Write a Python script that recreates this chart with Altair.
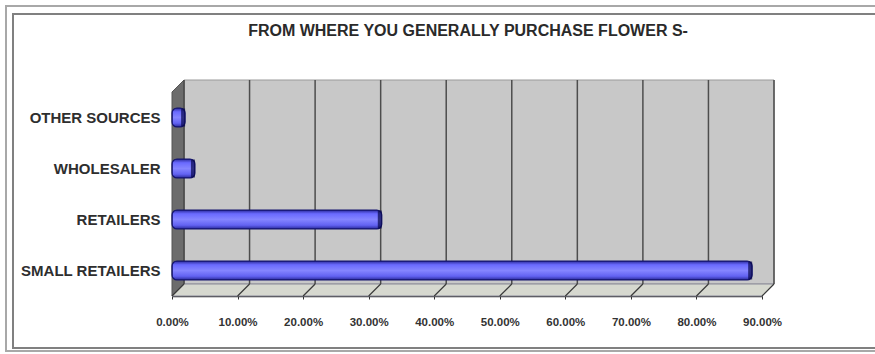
import altair as alt
import pandas as pd

# ---- data ----
categories = ["OTHER SOURCES", "WHOLESALER", "RETAILERS", "SMALL RETAILERS"]
shares = [2.0, 3.5, 32.0, 88.5]          # percent
tick_values = [0, 10, 20, 30, 40, 50, 60, 70, 80, 90]
title_text = "FROM WHERE YOU GENERALLY PURCHASE FLOWER S-"

W, H, D = 590, 204, 12   # plot width, height, 3-D depth (px)
FONT = "Liberation Sans"

bars_df = pd.DataFrame({"source": categories, "share": shares})
ticks_df = pd.DataFrame({"t": tick_values})
one = pd.DataFrame({"k": [0]})

xscale = alt.Scale(domain=[0, 90], nice=False, zero=True)
yscale = alt.Scale(domain=categories, paddingInner=0, paddingOuter=0)

xaxis = alt.Axis(values=tick_values,
                 labelExpr="format(datum.value, '.2f') + '%'",
                 grid=False, tickSize=3, tickColor="#333333",
                 domainColor="#333333", domainWidth=1.5,
                 labelFlush=False, labelOverlap=False,
                 labelPadding=17, labelFont=FONT, labelFontSize=11.5,
                 labelColor="#333333", labelFontWeight="bold", title=None)
yaxis = alt.Axis(domain=False, ticks=False, labelPadding=12,
                 labelFont=FONT, labelFontSize=15, labelFontWeight="bold",
                 labelColor="#2e2e2e", labelLimit=300, title=None)

# outer double frame
frame_outer = alt.Chart(one).mark_rect(filled=False, stroke="#a8a8a8", strokeWidth=2).encode(
    x=alt.value(-166), x2=alt.value(760), y=alt.value(-86), y2=alt.value(259))
frame_inner = alt.Chart(one).mark_rect(filled=False, stroke="#808080", strokeWidth=2).encode(
    x=alt.value(-159), x2=alt.value(760), y=alt.value(-78), y2=alt.value(256))

# back wall
back = alt.Chart(one).mark_rect(color="#c8c8c8", stroke="#9a9a9a", strokeWidth=1).encode(
    x=alt.value(D), x2=alt.value(W + D), y=alt.value(-D), y2=alt.value(H - D))

# side wall (parallelogram)
side_df = pd.DataFrame({"px": [0, D], "a": [0, -D], "b": [H, H - D]})
side = alt.Chart(side_df).mark_area(color="#6c6c6c", stroke="#555555", strokeWidth=1).encode(
    x=alt.X("px:Q", scale=None),
    y=alt.Y("a:Q", scale=None),
    y2="b:Q")

# floor (parallelogram)
floor_df = pd.DataFrame({"px": [0, D, W, W + D], "a": [H, H - D, H - D, H - D], "b": [H, H, H, H - D]})
floor = alt.Chart(floor_df).mark_area(color="#d6d8cf", stroke="#8a8a9a", strokeWidth=1).encode(
    x=alt.X("px:Q", scale=None),
    y=alt.Y("a:Q", scale=None),
    y2="b:Q")

# back-wall gridlines
grid = alt.Chart(ticks_df).mark_rule(xOffset=D, color="#4d4d4d", strokeWidth=1.5).encode(
    x=alt.X("t:Q", scale=xscale, axis=xaxis),
    y=alt.value(-D), y2=alt.value(H - D))

# floor diagonals
diag = alt.Chart(ticks_df).mark_rule(x2Offset=D, color="#3a3a3a", strokeWidth=1.2).encode(
    x=alt.X("t:Q", scale=xscale, axis=xaxis), x2="t:Q",
    y=alt.value(H), y2=alt.value(H - D))

bar_fill = alt.Gradient(
    gradient="linear", x1=0, x2=0, y1=0, y2=1,
    stops=[alt.GradientStop(color="#2a2a9a", offset=0),
           alt.GradientStop(color="#6a6aff", offset=0.2),
           alt.GradientStop(color="#8585ff", offset=0.5),
           alt.GradientStop(color="#6262f2", offset=0.8),
           alt.GradientStop(color="#2a2a9a", offset=1)])

bars = alt.Chart(bars_df).mark_bar(size=19, cornerRadius=5, color=bar_fill,
                                   stroke="#15156e", strokeWidth=1.2).encode(
    x=alt.X("share:Q", scale=xscale, axis=xaxis),
    y=alt.Y("source:N", scale=yscale, sort=categories, axis=yaxis))

caps = alt.Chart(bars_df).mark_tick(thickness=4, size=18, color="#07074a", xOffset=-2).encode(
    x=alt.X("share:Q", scale=xscale, axis=xaxis),
    y=alt.Y("source:N", scale=yscale, sort=categories, axis=yaxis))

title = alt.Chart(one).mark_text(text=title_text, font=FONT, fontSize=16, fontWeight="bold",
                                 color="#2a2a2a", align="center", baseline="middle").encode(
    x=alt.value(296), y=alt.value(-61))

chart = alt.layer(frame_outer, frame_inner, back, side, floor, grid, diag, bars, caps, title).properties(
    width=W, height=H,
    autosize=alt.AutoSizeParams(type="none"),
    padding={"left": 172, "top": 92, "right": 113, "bottom": 58},
    background="white",
).configure_view(stroke=None)

chart.save("out.html", embed_options={"renderer": "svg", "actions": False})
